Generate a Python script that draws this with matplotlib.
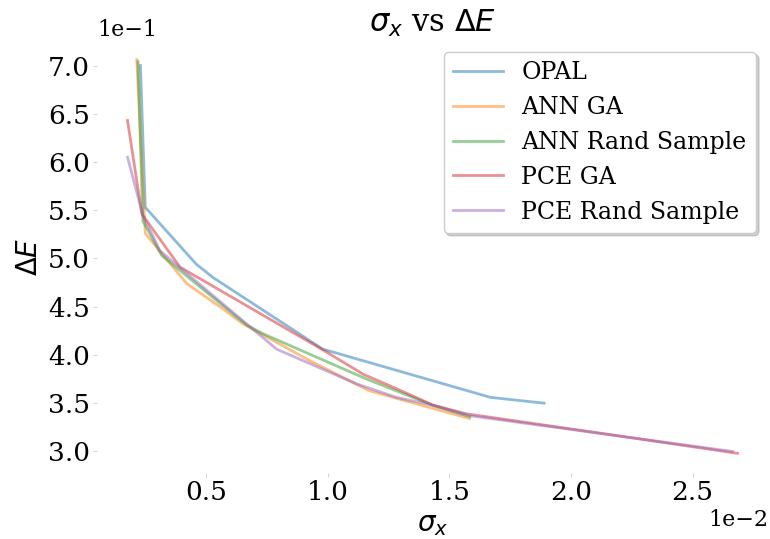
import matplotlib
matplotlib.use("Agg")
import matplotlib.pyplot as plt
from matplotlib.ticker import MultipleLocator

# sigma_x values (x 1e-2 later) and Delta E values (x 1e-1 later)
opal_x = [0.23, 0.25, 0.46, 0.53, 0.98, 1.67, 1.89]
opal_y = [7.00, 5.53, 4.94, 4.80, 4.06, 3.56, 3.50]

ann_ga_x = [0.215, 0.25, 0.42, 0.557, 0.653, 0.927, 1.17, 1.283, 1.584]
ann_ga_y = [7.06, 5.26, 4.74, 4.50, 4.32, 3.94, 3.63, 3.55, 3.34]

ann_rand_x = [0.22, 0.24, 0.318, 0.667, 0.734, 1.16, 1.43, 1.584]
ann_rand_y = [7.04, 5.39, 5.03, 4.31, 4.22, 3.75, 3.48, 3.36]

pce_ga_x = [0.177, 0.236, 0.393, 0.982, 1.146, 1.283, 1.433, 1.57, 2.118, 2.685]
pce_ga_y = [6.43, 5.46, 4.91, 4.05, 3.80, 3.65, 3.48, 3.39, 3.19, 2.98]

pce_rand_x = [0.177, 0.24, 0.31, 0.79, 1.119, 1.283, 1.43, 1.584, 2.664]
pce_rand_y = [6.05, 5.45, 5.08, 4.06, 3.70, 3.56, 3.48, 3.37, 3.00]

labels = ["OPAL", "ANN GA", "ANN Rand Sample", "PCE GA", "PCE Rand Sample"]
xs = [opal_x, ann_ga_x, ann_rand_x, pce_ga_x, pce_rand_x]
ys = [opal_y, ann_ga_y, ann_rand_y, pce_ga_y, pce_rand_y]

plt.rcParams["font.family"] = "serif"
plt.rcParams["font.serif"] = ["DejaVu Serif"]
plt.rcParams["mathtext.fontset"] = "dejavusans"

fig = plt.figure(figsize=(7.7, 5.39), dpi=100)
ax = fig.add_axes([0.126, 0.1224, 0.8714, 0.8033])

for x, y, lab in zip(xs, ys, labels):
    ax.plot([v * 1e-2 for v in x], [v * 1e-1 for v in y], label=lab, lw=2, alpha=0.5)

ax.ticklabel_format(style="sci", axis="both", scilimits=(0, 0))
ax.yaxis.set_major_locator(MultipleLocator(0.05))
for s in ax.spines.values():
    s.set_visible(False)
ax.tick_params(labelsize=19, length=3, width=0.6, color="#cccccc", pad=2)
ax.xaxis.get_offset_text().set_fontsize(16)
ax.yaxis.get_offset_text().set_fontsize(16)

ax.set_title(r"$\sigma_x$ vs $\Delta E$", fontsize=22)
ax.set_xlabel(r"$\sigma_x$", fontsize=20)
ax.set_ylabel(r"$\Delta E$", fontsize=20)
ax.legend(loc="upper right", fontsize=17, handlelength=2.1,
          shadow={"color": "0.5", "alpha": 0.35})

fig.savefig("out.png", dpi=100)
